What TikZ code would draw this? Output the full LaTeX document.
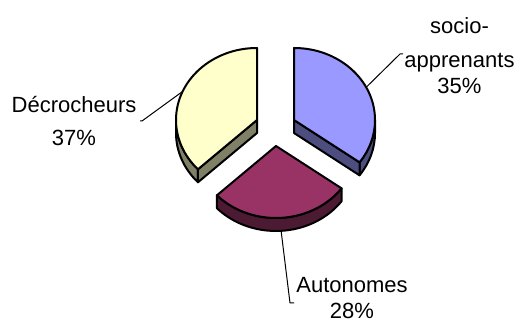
\documentclass[tikz,border=0pt]{standalone}
\usepackage{fontspec}
\setmainfont{Liberation Sans}
\usetikzlibrary{calc}
\definecolor{bluetop}{HTML}{9999FF}
\definecolor{blueside}{HTML}{4D4D80}
\definecolor{plumtop}{HTML}{993366}
\definecolor{plumside}{HTML}{4D1A33}
\definecolor{ivorytop}{HTML}{FFFFCC}
\definecolor{ivoryside}{HTML}{808066}
\tikzset{
  face/.style={draw=black,line width=1pt,line join=round},
  leader/.style={draw=black,line width=0.5pt},
  lbl/.style={align=center,inner sep=0pt,font=\fontsize{11}{13}\selectfont}
}
\begin{document}
\begin{tikzpicture}[x=0.5pt,y=0.5pt,x radius=81,y radius=72]
\useasboundingbox (0,0) rectangle (517,-324);
% socio-apprenants, 35%
\begin{scope}[shift={(294,-120)}]
\filldraw[face,fill=blueside] (-36:81 and 72) arc[start angle=-36,end angle=0]
  -- ++(0,-13) arc[start angle=0,end angle=-36] -- cycle;
\filldraw[face,fill=blueside] (0,0) -- (-36:81 and 72) -- ++(0,-13) -- (0,-13) -- cycle;
\filldraw[face,fill=bluetop] (0,0) -- (90:81 and 72) arc[start angle=90,end angle=-36] -- cycle;
\coordinate (bluept) at (27:81 and 72);
\end{scope}
% Autonomes, 28%
\begin{scope}[shift={(276,-146)}]
\filldraw[face,fill=plumside] (-136.8:81 and 72) arc[start angle=-136.8,end angle=-36]
  -- ++(0,-13) arc[start angle=-36,end angle=-136.8] -- cycle;
\filldraw[face,fill=plumtop] (0,0) -- (-36:81 and 72) arc[start angle=-36,end angle=-136.8] -- cycle;
\coordinate (plumpt) at ($(-86.4:81 and 72)+(0,-13)$);
\end{scope}
% Decrocheurs, 37%
\begin{scope}[shift={(257,-120)}]
\filldraw[face,fill=ivoryside] (180:81 and 72) arc[start angle=180,end angle=223.2]
  -- ++(0,-13) arc[start angle=223.2,end angle=180] -- cycle;
\filldraw[face,fill=ivoryside] (0,0) -- (223.2:81 and 72) -- ++(0,-13) -- (0,-13) -- cycle;
\filldraw[face,fill=ivorytop] (0,0) -- (90:81 and 72) arc[start angle=90,end angle=223.2] -- cycle;
\coordinate (ivorypt) at (156.6:81 and 72);
\end{scope}
% labels
\node[lbl] (socio) at (459.5,-55.5) {socio-\\[4pt]apprenants\\35\%};
\node[lbl] (decro) at (74,-121) {Décrocheurs\\[3.5pt]37\%};
\node[lbl] (auto) at (352,-298.5) {Autonomes\\28\%};
\coordinate (sociotick) at (400,-54);
\coordinate (decrotick) at (142,-121);
\coordinate (autotick) at (290,-303);
\draw[leader] (bluept) -- (sociotick) -- ++(3,0);
\draw[leader] (ivorypt) -- (decrotick) -- ++(-2,0);
\draw[leader] (plumpt) -- (autotick) -- ++(4,0);
\end{tikzpicture}
\end{document}
